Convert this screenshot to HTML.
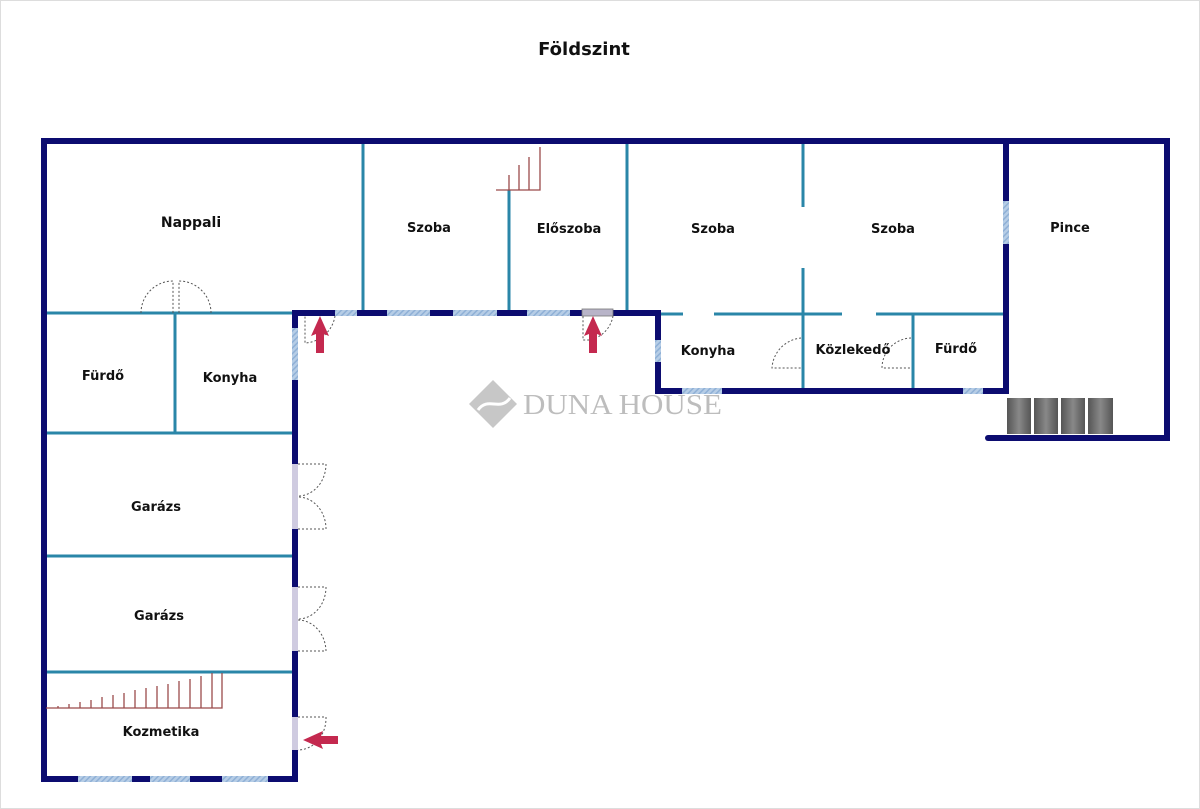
<!DOCTYPE html>
<html><head><meta charset="utf-8"><style>
html,body{margin:0;padding:0;background:#fff;width:1200px;height:809px;overflow:hidden}
svg{display:block}
text{font-family:"DejaVu Sans","Liberation Sans",sans-serif;font-weight:bold;fill:#111}
</style></head><body>
<svg width="1200" height="809" viewBox="0 0 1200 809" xmlns="http://www.w3.org/2000/svg">
<defs>
<pattern id="h" width="4" height="4" patternUnits="userSpaceOnUse" patternTransform="rotate(45)">
<rect width="4" height="4" fill="#b6cde6"/><rect width="1.5" height="4" fill="#8fb0d6"/></pattern>
<linearGradient id="g" x1="0" x2="1"><stop offset="0" stop-color="#555"/><stop offset=".5" stop-color="#888"/><stop offset="1" stop-color="#555"/></linearGradient>
</defs>
<rect x="0.5" y="0.5" width="1199" height="808" fill="none" stroke="#ddd"/>
<text x="584" y="55" font-size="18" text-anchor="middle">Földszint</text>

<g stroke="#2a86a8" stroke-width="3" fill="none">
<line x1="44" y1="313" x2="295" y2="313"/>
<line x1="363" y1="141" x2="363" y2="313"/>
<line x1="509" y1="190" x2="509" y2="313"/>
<line x1="627" y1="141" x2="627" y2="313"/>
<line x1="803" y1="141" x2="803" y2="207"/>
<line x1="803" y1="268" x2="803" y2="391"/>
<line x1="658" y1="314" x2="683" y2="314"/>
<line x1="714" y1="314" x2="842" y2="314"/>
<line x1="876" y1="314" x2="1006" y2="314"/>
<line x1="913" y1="314" x2="913" y2="391"/>
<line x1="175" y1="313" x2="175" y2="433"/>
<line x1="44" y1="433" x2="295" y2="433"/>
<line x1="44" y1="556" x2="295" y2="556"/>
<line x1="44" y1="672" x2="295" y2="672"/>
</g>

<g stroke="#0c0c70" stroke-width="6" fill="none" stroke-linecap="square">
<polyline points="44,779 44,141 1167,141 1167,438"/>
<line x1="988" y1="438" x2="1167" y2="438" stroke-linecap="round"/>
<polyline points="44,779 295,779 295,313 658,313 658,391 1006,391 1006,141"/>
</g>

<g fill="url(#h)">
<rect x="78" y="776" width="54" height="6"/><rect x="150" y="776" width="40" height="6"/><rect x="222" y="776" width="46" height="6"/>
<rect x="335" y="310" width="22" height="6"/><rect x="387" y="310" width="43" height="6"/><rect x="453" y="310" width="44" height="6"/><rect x="527" y="310" width="43" height="6"/>
<rect x="292" y="328" width="6" height="52"/>
<rect x="655" y="340" width="6" height="22"/>
<rect x="682" y="388" width="40" height="6"/><rect x="963" y="388" width="20" height="6"/>
<rect x="1003" y="201" width="6" height="43"/>
</g>
<rect x="582" y="309" width="31" height="7" fill="#b8b4c8" stroke="#777" stroke-width="0.8"/>
<g fill="#cfcbe0"><rect x="292" y="464" width="6" height="65"/><rect x="292" y="587" width="6" height="64"/><rect x="292" y="717" width="6" height="33"/></g>

<g stroke="#555" stroke-width="1" fill="none" stroke-dasharray="2,2">
<path d="M141,313 A32,32 0 0 1 173,281 L173,313"/>
<path d="M211,313 A32,32 0 0 0 179,281 L179,313"/>
<path d="M298,464 L326,464 A28,32 0 0 1 298,496"/>
<path d="M298,529 L326,529 A28,32 0 0 0 298,497"/>
<path d="M298,587 L326,587 A28,32 0 0 1 298,619"/>
<path d="M298,651 L326,651 A28,32 0 0 0 298,620"/>
<path d="M298,717 L326,717 A28,32 0 0 1 298,750"/>
<path d="M335,316 A32,32 0 0 1 305,343 L305,316"/>
<path d="M613,316 A30,30 0 0 1 590,340 L583,340 L583,316"/>
<path d="M801,338 A32,32 0 0 0 772,368 L801,368"/>
<path d="M911,338 A30,30 0 0 0 882,368 L911,368"/>
</g>

<g fill="#c4294f">
<polygon points="320,316 311,336 316,334 316,353 324,353 324,334 329,336"/>
<polygon points="593,316 584,336 589,334 589,353 597,353 597,334 602,336"/>
<polygon points="303,740 323,731 321,736 338,736 338,744 321,744 323,749"/>
</g>

<g stroke="#9a4a4a" stroke-width="1.3" fill="none">
<polyline points="496,190 540,190 540,147"/>
<line x1="509" y1="190" x2="509" y2="175"/><line x1="519" y1="190" x2="519" y2="165"/><line x1="529" y1="190" x2="529" y2="157"/>
<polyline points="46,708 222,708 222,673"/>
<line x1="212" y1="708" x2="212" y2="673"/>
<line x1="201" y1="708" x2="201" y2="676"/><line x1="190" y1="708" x2="190" y2="679"/><line x1="179" y1="708" x2="179" y2="681"/><line x1="168" y1="708" x2="168" y2="684"/><line x1="157" y1="708" x2="157" y2="686"/><line x1="146" y1="708" x2="146" y2="688"/><line x1="135" y1="708" x2="135" y2="690"/><line x1="124" y1="708" x2="124" y2="693"/><line x1="113" y1="708" x2="113" y2="695"/><line x1="102" y1="708" x2="102" y2="697"/><line x1="91" y1="708" x2="91" y2="700"/><line x1="80" y1="708" x2="80" y2="702"/><line x1="69" y1="708" x2="69" y2="704"/><line x1="58" y1="708" x2="58" y2="706"/>
</g>

<g fill="url(#g)"><rect x="1007" y="398" width="24" height="36"/><rect x="1034" y="398" width="24" height="36"/><rect x="1061" y="398" width="24" height="36"/><rect x="1088" y="398" width="25" height="36"/></g>

<g opacity="0.55">
<polygon points="493,380 517,404 493,428 469,404" fill="#9a9a9a"/>
<path d="M478,410 C488,396 500,412 510,398" stroke="#fff" stroke-width="3" fill="none"/>
<text x="523" y="414" textLength="199" lengthAdjust="spacingAndGlyphs" style="fill:#888;font-family:'Liberation Serif',serif;font-weight:normal;font-size:29px">DUNA HOUSE</text>
</g>

<g font-size="13">
<text x="191" y="227" text-anchor="middle" font-size="14">Nappali</text>
<text x="429" y="232" text-anchor="middle">Szoba</text>
<text x="569" y="233" text-anchor="middle">Előszoba</text>
<text x="713" y="233" text-anchor="middle">Szoba</text>
<text x="893" y="233" text-anchor="middle">Szoba</text>
<text x="1070" y="232" text-anchor="middle">Pince</text>
<text x="708" y="355" text-anchor="middle">Konyha</text>
<text x="853" y="354" text-anchor="middle">Közlekedő</text>
<text x="956" y="353" text-anchor="middle">Fürdő</text>
<text x="103" y="380" text-anchor="middle">Fürdő</text>
<text x="230" y="382" text-anchor="middle">Konyha</text>
<text x="156" y="511" text-anchor="middle">Garázs</text>
<text x="159" y="620" text-anchor="middle">Garázs</text>
<text x="161" y="736" text-anchor="middle">Kozmetika</text>
</g>
</svg>
</body></html>
